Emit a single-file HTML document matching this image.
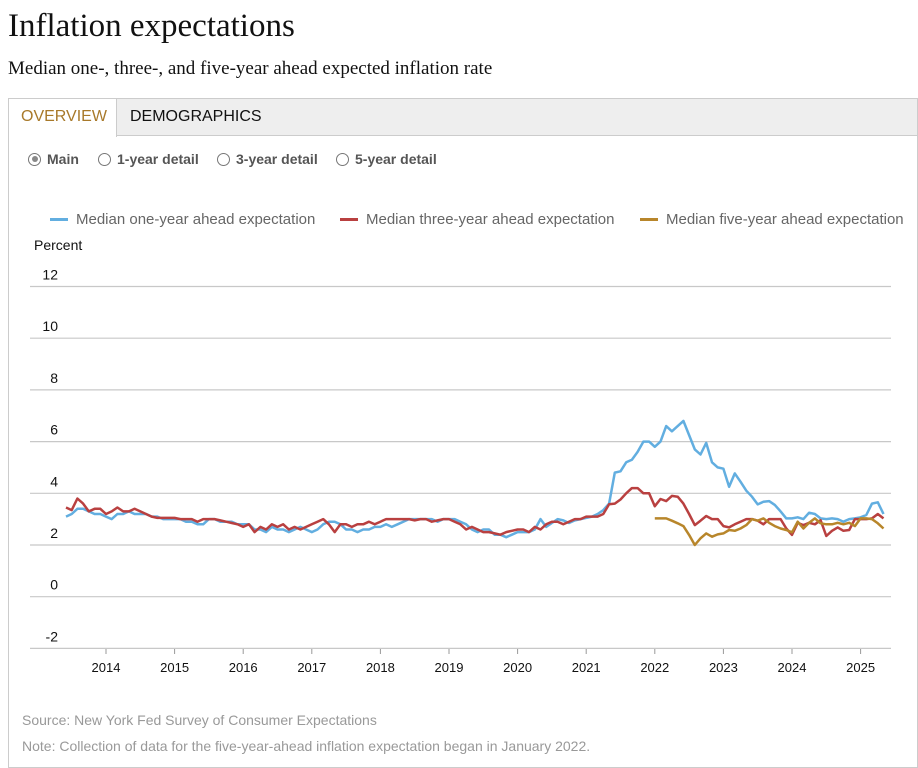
<!DOCTYPE html>
<html><head><meta charset="utf-8"><style>
body{margin:0;width:918px;height:761px;background:#fff;position:relative;overflow:hidden;font-family:"Liberation Sans",sans-serif}
.abs{position:absolute;white-space:nowrap}
h1{position:absolute;left:8px;top:8px;margin:0;font:33px "Liberation Serif",serif;color:#111}
.sub{left:8px;top:58px;font:19px "Liberation Serif",serif;color:#111}
.box{position:absolute;left:8px;top:98px;width:910px;height:670px;border:1px solid #ccc;box-sizing:border-box}
.tabbar{position:absolute;left:9px;top:99px;width:908px;height:37px;background:#eee;border-bottom:1px solid #ccc;box-sizing:border-box}
.tab1{position:absolute;left:9px;top:99px;width:108px;height:38px;background:#fff;border-right:1px solid #ccc;box-sizing:border-box;color:#a8792a;font-size:16px;padding:9px 0 0 12px}
.tab2{left:130px;top:108px;font-size:16px;color:#111}
.radio{top:151px;font-size:14px;font-weight:bold;color:#555;display:flex;align-items:center}
.radio i{display:inline-block;width:13px;height:13px;border:1px solid #777;border-radius:50%;margin-right:6px;box-sizing:border-box;position:relative}
.radio i.on::after{content:"";position:absolute;left:2.5px;top:2.5px;width:6px;height:6px;border-radius:50%;background:#888}
.leg{top:211px;font-size:15px;color:#666;display:flex;align-items:center}
.leg b{display:inline-block;width:18px;height:3px;margin-right:8px}
.foot{font-size:14px;color:#999}
</style></head><body>
<h1>Inflation expectations</h1>
<div class="abs sub">Median one-, three-, and five-year ahead expected inflation rate</div>
<div class="box"></div>
<div class="tabbar"></div>
<div class="tab1">OVERVIEW</div>
<div class="abs tab2">DEMOGRAPHICS</div>
<div class="abs radio" style="left:28px"><i class="on"></i>Main</div>
<div class="abs radio" style="left:98px"><i></i>1-year detail</div>
<div class="abs radio" style="left:217px"><i></i>3-year detail</div>
<div class="abs radio" style="left:336px"><i></i>5-year detail</div>
<div class="abs leg" style="left:50px"><b style="background:#62aee0"></b>Median one-year ahead expectation</div>
<div class="abs leg" style="left:340px"><b style="background:#b94040"></b>Median three-year ahead expectation</div>
<div class="abs leg" style="left:640px"><b style="background:#b8862b"></b>Median five-year ahead expectation</div>
<div class="abs" style="left:34px;top:237px;font-size:14px;color:#111">Percent</div>
<svg id="chart" class="abs" style="left:0;top:0" width="918" height="761"></svg>
<div class="abs foot" style="left:22px;top:712px">Source: New York Fed Survey of Consumer Expectations</div>
<div class="abs foot" style="left:22px;top:738px">Note: Collection of data for the five-year-ahead inflation expectation began in January 2022.</div>
<script>
const yTicks=[12,10,8,6,4,2,0,-2];
const years=[2014,2015,2016,2017,2018,2019,2020,2021,2022,2023,2024,2025];
const oneYear=[3.1,3.2,3.4,3.4,3.3,3.2,3.2,
3.1,3.0,3.2,3.2,3.3,3.2,3.2,3.2,3.1,3.1,3.0,3.0,
3.0,3.0,2.9,2.9,2.8,2.8,3.0,3.0,2.9,2.9,2.9,2.8,
2.8,2.8,2.6,2.6,2.5,2.7,2.6,2.6,2.5,2.6,2.7,2.6,
2.5,2.6,2.8,2.9,2.9,2.8,2.6,2.6,2.5,2.6,2.6,2.7,
2.7,2.8,2.7,2.8,2.9,3.0,3.0,3.0,3.0,3.0,2.9,3.0,
3.0,3.0,2.9,2.8,2.6,2.5,2.6,2.6,2.4,2.4,2.3,2.4,
2.5,2.5,2.5,2.6,3.0,2.7,2.85,3.0,2.95,2.85,2.95,3.0,
3.05,3.1,3.2,3.35,3.6,4.8,4.85,5.2,5.3,5.6,6.0,6.0,
5.8,6.0,6.6,6.4,6.6,6.8,6.25,5.7,5.5,5.95,5.2,5.0,
4.95,4.25,4.77,4.45,4.1,3.87,3.57,3.67,3.7,3.55,3.3,3.03,
3.03,3.07,3.0,3.25,3.2,3.03,3.0,3.03,3.0,2.9,3.0,3.03,
3.07,3.16,3.6,3.65,3.2];
const threeYear=[3.45,3.35,3.8,3.6,3.3,3.4,3.4,
3.2,3.3,3.45,3.3,3.3,3.4,3.3,3.2,3.1,3.05,3.05,3.05,
3.05,3.0,3.0,3.0,2.9,3.0,3.0,3.0,2.95,2.9,2.85,2.8,
2.7,2.8,2.5,2.7,2.6,2.8,2.7,2.8,2.6,2.7,2.6,2.7,
2.8,2.9,3.0,2.8,2.5,2.8,2.8,2.7,2.8,2.8,2.9,2.8,
2.9,3.0,3.0,3.0,3.0,3.0,2.95,3.0,3.0,2.9,2.95,3.0,
3.0,2.9,2.8,2.6,2.7,2.6,2.5,2.5,2.45,2.4,2.5,2.55,
2.6,2.6,2.5,2.7,2.6,2.8,2.9,2.9,2.8,2.9,3.0,3.0,
3.1,3.1,3.1,3.2,3.58,3.6,3.76,4.0,4.2,4.2,4.0,4.0,
3.5,3.78,3.7,3.9,3.87,3.6,3.2,2.77,2.94,3.12,3.0,3.0,
2.73,2.68,2.8,2.9,3.0,3.0,2.94,2.8,3.0,3.0,3.0,2.64,
2.39,2.86,2.77,2.86,2.8,2.96,2.35,2.55,2.68,2.55,2.58,3.0,
3.0,3.0,3.03,3.2,3.03];
const fiveYear=[3.03,3.03,3.03,2.94,2.84,2.73,2.39,2.0,2.26,2.45,2.32,2.41,
2.45,2.58,2.55,2.64,2.77,3.0,2.94,3.03,2.86,2.73,2.64,2.58,
2.49,2.9,2.64,2.86,3.03,2.84,2.8,2.8,2.86,2.8,2.86,2.73,
3.03,3.03,3.0,2.84,2.64];
const NS="http://www.w3.org/2000/svg";
const svg=document.getElementById('chart');
const yScale=v=>545-(v-2)*25.85;
const yearX=yr=>106+(yr-2014)*68.6;
function xm(i){return 106+(i-7)*68.6/12;} // i = month index from Jun 2013 (Jan 2014 = 7)
function mk(t,a){const e=document.createElementNS(NS,t);for(const k in a)e.setAttribute(k,a[k]);svg.appendChild(e);return e;}
yTicks.forEach(v=>{
  const y=yScale(v);
  const l=mk('line',{x1:30,x2:891,y1:y,y2:y,stroke:'#c8c8c8','stroke-width':1.2});
  
  
  const t=mk('text',{x:58,y:y-7,'text-anchor':'end','font-size':14,fill:'#111','font-family':'Liberation Sans, sans-serif'});
  t.textContent=v;
  
  
});
years.forEach(yr=>{
  const x=yearX(yr);
  const tk=mk('line',{x1:x,x2:x,y1:649,y2:654,stroke:'#999'});
  
  
  const t=mk('text',{x:x,y:672,'text-anchor':'middle','font-size':13,fill:'#111','font-family':'Liberation Sans, sans-serif'});
  t.textContent=yr;
  
  
});
function series(arr,start,color,name){
  const pts=arr.map((v,i)=>xm(i+start).toFixed(1)+','+yScale(v).toFixed(1)).join(' ');
  const p=mk('polyline',{points:pts,fill:'none',stroke:color,'stroke-width':2.5,'stroke-linejoin':'round'});
  
  
}
series(oneYear,0,'#62aee0','one-year-line');
series(threeYear,0,'#b94040','three-year-line');
series(fiveYear,103,'#b8862b','five-year-line');
</script>
</body></html>
